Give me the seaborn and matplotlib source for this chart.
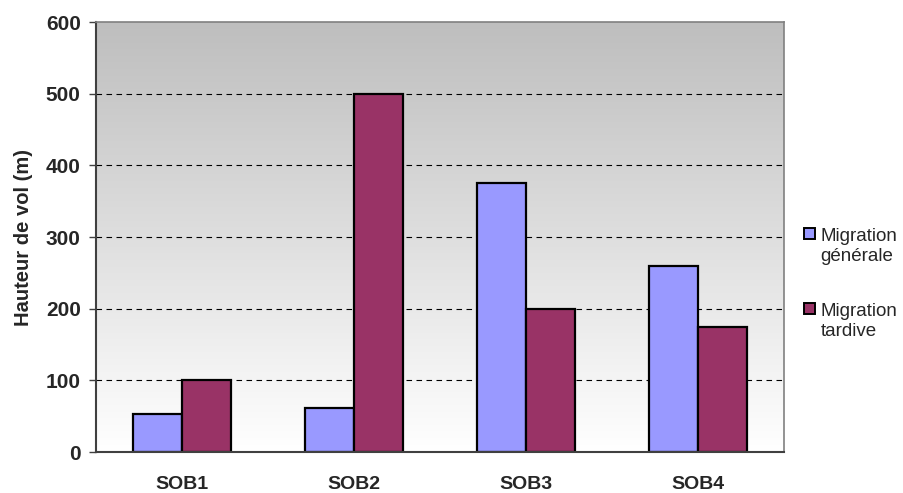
import numpy as np
import pandas as pd
import matplotlib
matplotlib.use("Agg")
import matplotlib.pyplot as plt
import matplotlib.patches as mpatches
from matplotlib.legend_handler import HandlerPatch
from matplotlib.colors import LinearSegmentedColormap
import seaborn as sns

# Data
sites = ["SOB1", "SOB2", "SOB3", "SOB4"]
migration_generale = [53, 61, 375, 260]
migration_tardive = [100, 500, 200, 175]
series_labels = ["Migration\ngénérale", "Migration\ntardive"]
series_colors = ["#9999FF", "#993366"]
y_ticks = [0, 100, 200, 300, 400, 500, 600]
y_label = "Hauteur de vol (m)"

df = pd.DataFrame({
    "site": sites * 2,
    "hauteur": migration_generale + migration_tardive,
    "serie": [series_labels[0]] * len(sites) + [series_labels[1]] * len(sites),
})

sns.set_style("white")
plt.rcParams["font.family"] = ["Liberation Sans", "DejaVu Sans"]

fig = plt.figure(figsize=(9.04, 4.93), dpi=100)
ax = fig.add_axes([96 / 904, 41 / 493, 688 / 904, 430 / 493])

sns.barplot(
    data=df, x="site", y="hauteur", hue="serie",
    order=sites, hue_order=series_labels, palette=series_colors,
    width=0.575, edgecolor="black", linewidth=1.6, saturation=1,
    legend=False, ax=ax, zorder=2,
)

# Grey-to-white vertical gradient behind the plot
grad = np.linspace(0, 1, 256)[:, None]
bg_cmap = LinearSegmentedColormap.from_list("bg", ["#FFFFFF", "#BEBEBE"])
ax.imshow(grad, extent=[0, 1, 0, 1], transform=ax.transAxes, origin="lower",
          aspect="auto", cmap=bg_cmap, zorder=0, interpolation="bilinear")

ax.set_xlim(-0.5, len(sites) - 0.5)
ax.set_ylim(y_ticks[0], y_ticks[-1])
ax.set_yticks(y_ticks)
ax.set_yticklabels([str(v) for v in y_ticks], fontsize=15, fontweight="bold")
ax.set_xticks(range(len(sites)))
ax.set_xticklabels(sites, fontsize=14, fontweight="bold")
ax.set_xticks(np.arange(-0.5, len(sites)), minor=True)
ax.tick_params(axis="x", which="major", length=0, pad=17)
ax.tick_params(axis="x", which="minor", length=5, width=1, color="#404040", direction="out")
ax.tick_params(axis="y", length=5, width=1, color="#404040", direction="out", pad=6, left=True)
ax.set_xlabel("")
ax.set_ylabel(y_label, fontsize=14.5, fontweight="bold", labelpad=9)

# Dashed horizontal gridlines
ax.set_axisbelow(True)
ax.yaxis.grid(True, color="black", linestyle=(0, (5, 4)), linewidth=0.8)
ax.xaxis.grid(False)
gl = ax.get_ygridlines()
gl[0].set_visible(False)
gl[-1].set_visible(False)
for gline in gl:
    gline.set_zorder(1)

for side in ["left", "bottom"]:
    ax.spines[side].set_visible(True)
    ax.spines[side].set_color("#404040")
    ax.spines[side].set_linewidth(1.5)
for side in ["top", "right"]:
    ax.spines[side].set_visible(True)
    ax.spines[side].set_color("#808080")
    ax.spines[side].set_linewidth(1.2)


# Legend squares aligned with the first line of each two-line label
def raised_square(legend, orig_handle, xdescent, ydescent, width, height, fontsize):
    s = 0.58 * fontsize
    return mpatches.Rectangle((-xdescent, -ydescent + 0.72 * fontsize), s, s)


handles = [mpatches.Patch(facecolor=c, edgecolor="black", linewidth=1.4) for c in series_colors]
fig.legend(
    handles, series_labels, loc="upper left", bbox_to_anchor=(804 / 904, 1 - 228 / 493),
    frameon=False, fontsize=13.5, handlelength=0.58, handleheight=0.7, handletextpad=0.3,
    labelspacing=2.05, borderpad=0, borderaxespad=0,
    handler_map={mpatches.Patch: HandlerPatch(patch_func=raised_square)},
)

fig.savefig("out.png", dpi=100)
